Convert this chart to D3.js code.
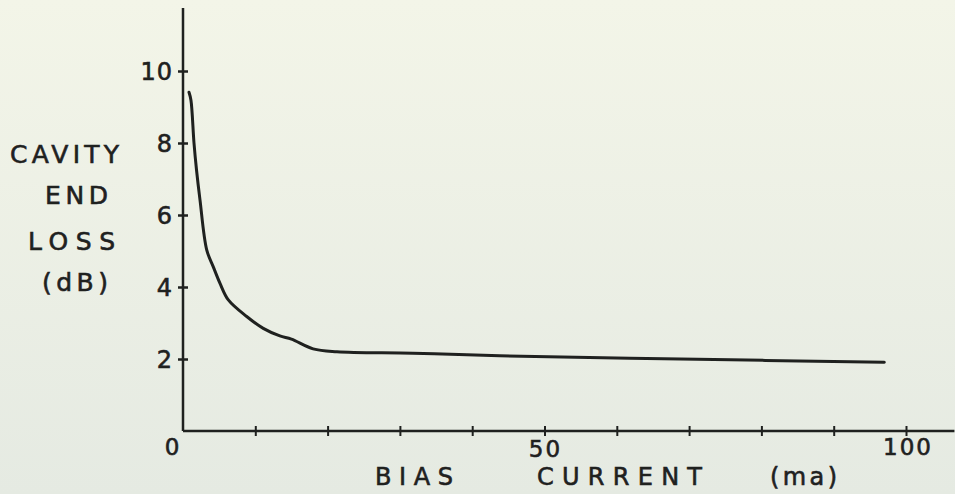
<!DOCTYPE html>
<html lang="en">
  <head>
    <meta charset="utf-8">
    <title>Cavity End Loss vs Bias Current</title>
    <script src="https://cdn.jsdelivr.net/npm/d3@7"></script>
    <style>
      html, body { margin: 0; padding: 0; }
      body { width: 955px; height: 494px; overflow: hidden; }
    </style>
  </head>

  <body>
    <script>
      // curve: bias current (ma) -> cavity end loss (dB)
      var biasCurrent = [0.83, 1.1, 1.52, 1.87, 2.35, 3.28, 4.19, 5.12, 6.27, 8.81, 11.1, 13.4, 15.0, 18.0, 21.3, 31.8, 43.8, 68.8, 97.0]
      var endLoss     = [9.41, 9.19, 8.0, 7.25, 6.42, 5.03, 4.56, 4.10, 3.64, 3.18, 2.85, 2.64, 2.55, 2.28, 2.20, 2.16, 2.09, 2.0, 1.91]

      var yTicks = [2, 4, 6, 8, 10]
      var xTicks = [10, 20, 30, 40, 50, 60, 70, 80, 90, 100]
      var xLabels = [0, 50, 100]
      var yTitle = ['CAVITY', 'END', 'LOSS', '(dB)']

      var width = 955, height = 494
      var ink = '#1f211f'
      var font = 'DejaVu Sans, sans-serif'

      var svg = d3.select('body').append('svg').attr('width', width).attr('height', height)

      // paper background, slightly greener at the top
      var grad = svg.append('defs').append('linearGradient').attr('id', 'paper')
        .attr('x1', 0).attr('y1', 0).attr('x2', 0).attr('y2', 1)
      grad.append('stop').attr('offset', '0%').attr('stop-color', '#f3f5e8')
      grad.append('stop').attr('offset', '100%').attr('stop-color', '#e5eae2')
      svg.append('rect').attr('width', width).attr('height', height).attr('fill', 'url(#paper)')

      var x = d3.scaleLinear().domain([0, 100]).range([183, 906])
      var y = d3.scaleLinear().domain([0, 10]).range([431, 71])

      // lettering style: a bit heavier than the plain font
      function inked(sel, size) {
        sel.attr('font-family', font).attr('font-size', size)
          .attr('fill', ink).attr('stroke', ink).attr('stroke-width', 0.6)
      }

      // y axis: line plus crossing ticks
      var yAxis = svg.append('g').attr('transform', 'translate(' + x(0) + ',0)')
        .call(d3.axisLeft(y).tickValues(yTicks).tickSize(0).tickPadding(10))
      yAxis.select('.domain').remove()
      yAxis.append('line').attr('y1', y(0)).attr('y2', y(11.75))
        .attr('stroke', ink).attr('stroke-width', 2.5)
      yAxis.selectAll('.tick').append('line').attr('x1', -5).attr('x2', 5)
        .attr('stroke', ink).attr('stroke-width', 2.5)
      yAxis.selectAll('.tick text').call(inked, 24)
        .attr('dy', '0.36em').attr('letter-spacing', 1)

      // x axis
      var xAxis = svg.append('g').attr('transform', 'translate(0,' + y(0) + ')')
        .call(d3.axisBottom(x).tickValues(xTicks).tickSize(0).tickFormat(''))
      xAxis.select('.domain').remove()
      xAxis.append('line').attr('x1', x(0)).attr('x2', x(106.7))
        .attr('stroke', ink).attr('stroke-width', 2.5)
      xAxis.selectAll('.tick').append('line').attr('y1', -5).attr('y2', 5)
        .attr('stroke', ink).attr('stroke-width', 2)

      var labelY = { 0: 455, 50: 457, 100: 455 }
      var labelDx = { 0: -10, 50: 1, 100: 2 }
      svg.append('g').selectAll('text').data(xLabels).enter().append('text')
        .attr('x', function(d) { return x(d) + labelDx[d] })
        .attr('y', function(d) { return labelY[d] })
        .attr('text-anchor', 'middle')
        .call(inked, 23)
        .attr('letter-spacing', 2)
        .text(function(d) { return d })

      // x title, word by word with wide lettering
      var xTitle = [
        { t: 'BIAS', x: 375, w: 78 },
        { t: 'CURRENT', x: 537, w: 165 },
        { t: '(ma)', x: 770, w: 67 }
      ]
      svg.append('g').selectAll('text').data(xTitle).enter().append('text')
        .attr('x', function(d) { return d.x })
        .attr('y', 485)
        .call(inked, 24)
        .attr('textLength', function(d) { return d.w })
        .attr('lengthAdjust', 'spacing')
        .text(function(d) { return d.t })

      // y title, stacked lines
      var yTitlePos = [
        { x: 10, y: 163, w: 109 },
        { x: 45, y: 204, w: 63 },
        { x: 28, y: 250, w: 87 },
        { x: 42, y: 291, w: 66 }
      ]
      svg.append('g').selectAll('text').data(yTitle).enter().append('text')
        .attr('x', function(d, i) { return yTitlePos[i].x })
        .attr('y', function(d, i) { return yTitlePos[i].y })
        .call(inked, 25)
        .attr('textLength', function(d, i) { return yTitlePos[i].w })
        .attr('lengthAdjust', 'spacing')
        .text(function(d) { return d })

      // the loss curve
      var pts = biasCurrent.map(function(c, i) { return [c, endLoss[i]] })
      var line = d3.line()
        .x(function(d) { return x(d[0]) })
        .y(function(d) { return y(d[1]) })
        .curve(d3.curveCatmullRom.alpha(0.5))

      svg.append('path').datum(pts)
        .attr('d', line)
        .attr('fill', 'none')
        .attr('stroke', ink)
        .attr('stroke-width', 3)
        .attr('stroke-linecap', 'round')
        .attr('stroke-linejoin', 'round')
    </script>
  </body>
</html>
